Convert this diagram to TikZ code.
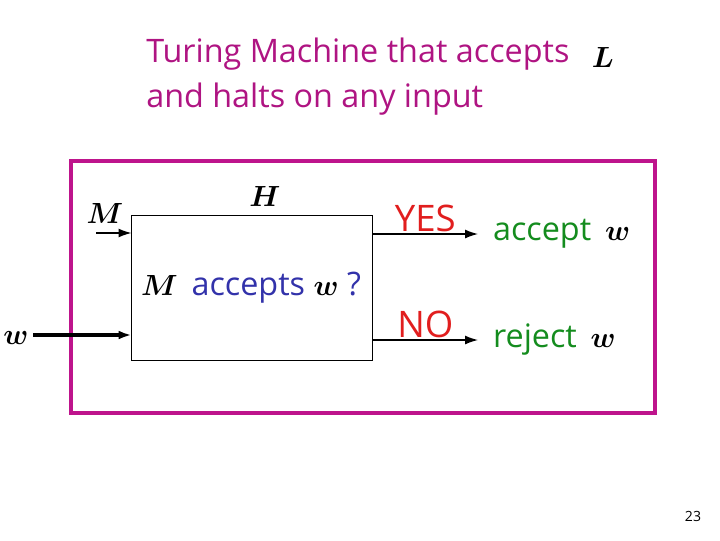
\documentclass[tikz,border=0pt]{standalone}
\usepackage{fontspec}
\setmainfont{Open Sans}
\usetikzlibrary{arrows.meta,positioning}
\definecolor{framecol}{RGB}{190,20,140}
\definecolor{titlecol}{RGB}{175,20,130}
\definecolor{askcol}{RGB}{50,50,170}
\definecolor{yescol}{RGB}{225,30,30}
\definecolor{outcol}{RGB}{20,140,30}
\newcommand{\mathsym}[1]{\textcolor{black}{\fontsize{20}{24}\selectfont\boldmath$#1$}}
\tikzset{
  titletext/.style={anchor=west, inner sep=0pt, text=titlecol,
                    font=\fontsize{23}{27}\selectfont},
  mathlabel/.style={inner sep=0pt, font=\fontsize{20}{24}\selectfont\boldmath},
  answer/.style={text=yescol, inner sep=1pt, font=\fontsize{26}{30}\selectfont},
  outtext/.style={anchor=west, text=outcol, inner xsep=10.5pt, inner ysep=2pt,
                  font=\fontsize{23}{27}\selectfont},
  arrow/.style={-{Latex[length=3.2mm,width=2.2mm]}, line width=0.9pt},
}

\begin{document}
\begin{tikzpicture}[x=0.025cm,y=-0.025cm]
\useasboundingbox (0,0) rectangle (720,540);

% title
\node[titletext] (title1) at (146,54) {Turing Machine that accepts};
\node[mathlabel] (lang) at (603,57) {$L$};
\node[titletext] (title2) at (146,99) {and halts on any input};

% outer frame
\draw[framecol, line width=2.8pt] (71,161) rectangle (655,413);

% the machine H
\node[draw, line width=0.7pt, minimum width=6cm, minimum height=3.6cm,
      inner sep=0pt] (machine) at (252,288) {};
\node[mathlabel] (hname) at (265,196) {$H$};
\node[inner sep=0pt, text=askcol, font=\fontsize{23}{27}\selectfont] (question) at (251,288)
  {\mathsym{M}\ \,accepts \mathsym{w}\ ?};

% inputs
\node[mathlabel] (minput) at (105,213) {$M$};
\coordinate (mstart) at (96,233);
\draw[arrow] (mstart) -- (mstart -| machine.west);
\node[mathlabel] (winput) at (16,338) {$w$};
\coordinate (wstart) at (33,335);
\draw[arrow, line width=2.6pt] (wstart) -- (wstart -| machine.west);

% outputs
\node[outtext] (accept) at (478,234) {accept \,\mathsym{w}};
\node[outtext] (reject) at (478,340) {reject \,\mathsym{w}};
\draw[arrow] (accept.west -| machine.east) -- node[answer, above] {YES} (accept.west);
\draw[arrow] (reject.west -| machine.east) -- node[answer, above] {NO} (reject.west);

\node[font=\fontsize{10}{12}\selectfont] (pagenum) at (693,516) {23};
\end{tikzpicture}
\end{document}
